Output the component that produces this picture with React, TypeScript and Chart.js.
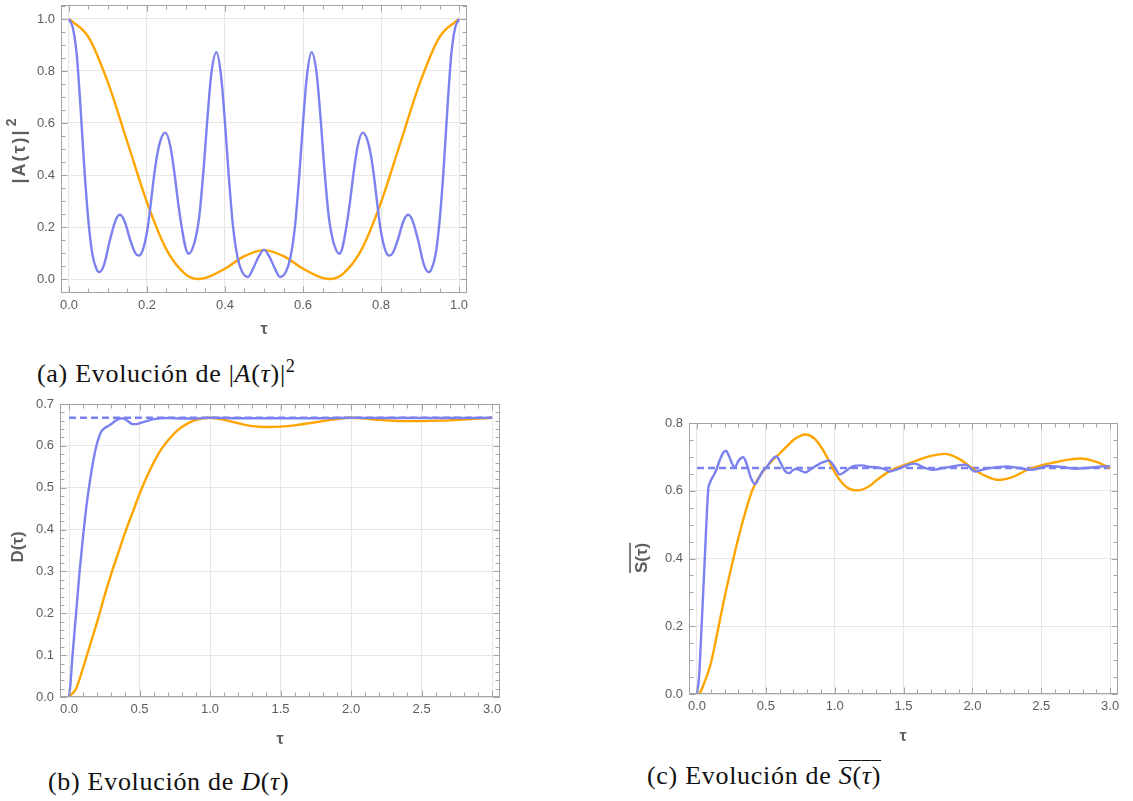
import React, { useEffect, useRef } from 'react';
import { Chart, registerables } from 'chart.js';

Chart.register(...registerables);

// ---------------- Data ----------------
// (a) |A(τ)|²
const A_BLUE_T = [0, 0.01, 0.02, 0.03, 0.04, 0.05, 0.06, 0.07, 0.078, 0.09, 0.105, 0.12, 0.131, 0.143, 0.157, 0.17, 0.179, 0.19, 0.202, 0.212, 0.222, 0.234, 0.247, 0.26, 0.271, 0.281, 0.29, 0.299, 0.307, 0.316, 0.325, 0.334, 0.345, 0.355, 0.365, 0.378, 0.39, 0.4, 0.41, 0.42, 0.432, 0.445, 0.459, 0.472, 0.486, 0.5,
  0.514, 0.528, 0.541, 0.555, 0.568, 0.58, 0.59, 0.6, 0.61, 0.622, 0.635, 0.645, 0.655, 0.666, 0.675, 0.684, 0.693, 0.701, 0.71, 0.719, 0.729, 0.74, 0.753, 0.766, 0.778, 0.788, 0.798, 0.81, 0.821, 0.83, 0.843, 0.857, 0.869, 0.88, 0.895, 0.91, 0.922, 0.93, 0.94, 0.95, 0.96, 0.97, 0.98, 0.99, 1.0];
const A_BLUE_V = [1.0, 0.965, 0.86, 0.65, 0.41, 0.22, 0.095, 0.04, 0.026, 0.055, 0.15, 0.228, 0.247, 0.22, 0.15, 0.1, 0.09, 0.115, 0.2, 0.32, 0.44, 0.53, 0.563, 0.51, 0.4, 0.28, 0.19, 0.12, 0.097, 0.115, 0.16, 0.24, 0.42, 0.62, 0.79, 0.872, 0.78, 0.6, 0.39, 0.21, 0.085, 0.025, 0.008, 0.04, 0.085, 0.113,
  0.085, 0.04, 0.008, 0.025, 0.085, 0.21, 0.39, 0.6, 0.78, 0.872, 0.79, 0.62, 0.42, 0.24, 0.16, 0.115, 0.097, 0.12, 0.19, 0.28, 0.4, 0.51, 0.563, 0.53, 0.44, 0.32, 0.2, 0.115, 0.09, 0.1, 0.15, 0.22, 0.247, 0.228, 0.15, 0.055, 0.026, 0.04, 0.095, 0.22, 0.41, 0.65, 0.86, 0.965, 1.0];
const A_ORANGE_T = [0, 0.05, 0.1, 0.15, 0.2, 0.25, 0.3, 0.333, 0.35, 0.4, 0.45, 0.5, 0.55, 0.6, 0.65, 0.667, 0.7, 0.75, 0.8, 0.85, 0.9, 0.95, 1.0];
const A_ORANGE_V = [1.0, 0.93, 0.755, 0.525, 0.295, 0.113, 0.017, 0.0, 0.004, 0.04, 0.088, 0.111, 0.088, 0.04, 0.004, 0.0, 0.017, 0.113, 0.295, 0.525, 0.755, 0.93, 1.0];

// (b) D(τ)
const D_BLUE_T = [0, 0.01, 0.025, 0.05, 0.075, 0.1, 0.125, 0.15, 0.175, 0.2, 0.225, 0.25, 0.275, 0.3, 0.325, 0.35, 0.375, 0.4, 0.425, 0.45, 0.475, 0.5, 0.55, 0.6, 0.65, 0.7, 0.8, 0.9, 1.0, 1.2, 1.4, 1.6, 1.8, 2.0, 2.2, 2.4, 2.6, 2.8, 3.0];
const D_BLUE_V = [0, 0.03, 0.1, 0.2, 0.3, 0.385, 0.46, 0.52, 0.57, 0.608, 0.632, 0.642, 0.647, 0.652, 0.659, 0.664, 0.666, 0.663, 0.657, 0.652, 0.652, 0.654, 0.659, 0.664, 0.666, 0.6665, 0.6655, 0.6655, 0.667, 0.666, 0.666, 0.666, 0.666, 0.667, 0.6665, 0.6665, 0.6665, 0.6665, 0.667];
const D_ORANGE_T = [0, 0.05, 0.1, 0.15, 0.2, 0.25, 0.3, 0.35, 0.4, 0.45, 0.5, 0.55, 0.6, 0.65, 0.7, 0.75, 0.8, 0.85, 0.9, 0.95, 1.0, 1.1, 1.2, 1.3, 1.4, 1.5, 1.6, 1.7, 1.8, 1.9, 2.0, 2.1, 2.2, 2.3, 2.4, 2.5, 2.6, 2.7, 2.8, 2.9, 3.0];
const D_ORANGE_V = [0, 0.02, 0.07, 0.125, 0.18, 0.24, 0.295, 0.345, 0.395, 0.44, 0.485, 0.525, 0.56, 0.59, 0.612, 0.631, 0.645, 0.655, 0.662, 0.666, 0.667, 0.662, 0.654, 0.647, 0.645, 0.646, 0.649, 0.654, 0.659, 0.664, 0.667, 0.665, 0.662, 0.66, 0.659, 0.659, 0.66, 0.661, 0.663, 0.665, 0.667];
const D_LIMIT = 0.667;

// (c) S̄(τ)
const S_BLUE_T = [0, 0.015, 0.03, 0.045, 0.06, 0.07, 0.082, 0.095, 0.106, 0.125, 0.143, 0.165, 0.19, 0.21, 0.23, 0.255, 0.275, 0.3, 0.336, 0.36, 0.39, 0.42, 0.45, 0.48, 0.505, 0.54, 0.577, 0.61, 0.64, 0.669, 0.7, 0.722, 0.75, 0.787, 0.83, 0.87, 0.92, 0.959, 1.0, 1.036, 1.08, 1.13, 1.2, 1.25, 1.31, 1.36, 1.4, 1.47, 1.53, 1.58, 1.65, 1.71, 1.8, 1.9, 1.95, 2.02, 2.1, 2.19, 2.25, 2.32, 2.43, 2.55, 2.65, 2.75, 2.85, 2.95, 3.0];
const S_BLUE_V = [0, 0.05, 0.17, 0.3, 0.43, 0.52, 0.605, 0.625, 0.635, 0.648, 0.665, 0.69, 0.712, 0.718, 0.705, 0.68, 0.669, 0.688, 0.699, 0.68, 0.64, 0.62, 0.638, 0.66, 0.669, 0.69, 0.701, 0.68, 0.658, 0.652, 0.662, 0.664, 0.66, 0.654, 0.665, 0.675, 0.685, 0.689, 0.67, 0.648, 0.658, 0.672, 0.675, 0.671, 0.669, 0.664, 0.657, 0.666, 0.676, 0.68, 0.668, 0.662, 0.668, 0.675, 0.677, 0.657, 0.665, 0.67, 0.672, 0.668, 0.662, 0.673, 0.67, 0.665, 0.668, 0.672, 0.672];
const S_ORANGE_T = [0, 0.02, 0.05, 0.1, 0.15, 0.2, 0.25, 0.3, 0.35, 0.4, 0.45, 0.5, 0.55, 0.6, 0.65, 0.7, 0.75, 0.787, 0.85, 0.9, 0.95, 1.0, 1.05, 1.1, 1.17, 1.25, 1.3, 1.4, 1.5, 1.6, 1.7, 1.8, 1.9, 2.0, 2.1, 2.19, 2.3, 2.4, 2.5, 2.6, 2.7, 2.79, 2.9, 3.0];
const S_ORANGE_V = [0, 0.003, 0.03, 0.09, 0.185, 0.285, 0.375, 0.46, 0.535, 0.6, 0.64, 0.667, 0.69, 0.71, 0.73, 0.75, 0.762, 0.766, 0.755, 0.73, 0.695, 0.655, 0.625, 0.607, 0.601, 0.613, 0.63, 0.658, 0.675, 0.69, 0.703, 0.709, 0.695, 0.666, 0.643, 0.632, 0.642, 0.662, 0.675, 0.684, 0.692, 0.695, 0.685, 0.667];
const S_LIMIT = 0.667;

// Tick labels
const A_X_TICKS = [0, 0.2, 0.4, 0.6, 0.8, 1.0];
const A_Y_TICKS = [0, 0.2, 0.4, 0.6, 0.8, 1.0];
const BC_X_TICKS = [0, 0.5, 1.0, 1.5, 2.0, 2.5, 3.0];
const B_Y_TICKS = [0, 0.1, 0.2, 0.3, 0.4, 0.5, 0.6, 0.7];
const C_Y_TICKS = [0, 0.2, 0.4, 0.6, 0.8];

// ---------------- Styles ----------------
const BLUE = '#7b82f0';
const ORANGE = '#ffa500';
const FRAME = '#a3a3a3';
const GRID = '#e6e6e6';
const TICK_COLOR = '#5c5c5c';
const TITLE_COLOR = '#5e5e5e';
const SANS = '"Liberation Sans", Arial, sans-serif';
const SERIF = '"Liberation Serif", "Times New Roman", serif';

type Series = { t: number[]; v: number[]; color: string; dash?: number[]; order: number };
type Spec = {
  key: string;
  left: number; top: number; w: number; h: number;
  area: { left: number; top: number; right: number; bottom: number };
  xMin: number; xMax: number; yMin: number; yMax: number;
  xTicks: number[]; yTicks: number[];
  xMinor: number; yMinor: number; xMajor: number; yMajor: number;
  series: Series[];
  xTitle: { x: number; y: number };
  yTitle: { x: number; y: number; text: string; sup?: string; overline?: boolean; spacing: number; size: number };
};

function makeFramePlugin(s: Spec) {
  return {
    id: 'frame_' + s.key,
    afterDraw(chart: any) {
      const { ctx, chartArea: a } = chart;
      const xs = chart.scales.x;
      const ys = chart.scales.y;
      ctx.save();
      ctx.strokeStyle = FRAME;
      ctx.lineWidth = 1;
      const L = Math.round(a.left) + 0.5;
      const R = Math.round(a.right) - 0.5;
      const T = Math.round(a.top) + 0.5;
      const B = Math.round(a.bottom) - 0.5;
      ctx.strokeRect(L, T, R - L, B - T);
      ctx.beginPath();
      const isMajor = (v: number, step: number) => Math.abs(v / step - Math.round(v / step)) < 1e-6;
      for (let k = Math.ceil(s.xMin / s.xMinor - 1e-9); k * s.xMinor <= s.xMax + 1e-9; k++) {
        const v = k * s.xMinor;
        const len = isMajor(v, s.xMajor) ? 6 : 4;
        const p = Math.round(xs.getPixelForValue(v)) + 0.5;
        ctx.moveTo(p, B); ctx.lineTo(p, B - len);
        ctx.moveTo(p, T); ctx.lineTo(p, T + len);
      }
      for (let k = Math.ceil(s.yMin / s.yMinor - 1e-9); k * s.yMinor <= s.yMax + 1e-9; k++) {
        const v = k * s.yMinor;
        const len = isMajor(v, s.yMajor) ? 6 : 4;
        const p = Math.round(ys.getPixelForValue(v)) + 0.5;
        ctx.moveTo(L, p); ctx.lineTo(L + len, p);
        ctx.moveTo(R, p); ctx.lineTo(R - len, p);
      }
      ctx.stroke();

      // x title
      ctx.fillStyle = TITLE_COLOR;
      ctx.font = `bold 16px ${SANS}`;
      ctx.textAlign = 'center';
      ctx.textBaseline = 'middle';
      ctx.fillText('τ', s.xTitle.x, s.xTitle.y);

      // y title (rotated)
      const yt = s.yTitle;
      ctx.translate(yt.x, yt.y);
      ctx.rotate(-Math.PI / 2);
      ctx.font = `bold ${yt.size}px ${SANS}`;
      (ctx as any).letterSpacing = `${yt.spacing}px`;
      const mainW = ctx.measureText(yt.text).width;
      let supW = 0;
      if (yt.sup) {
        ctx.font = `bold ${Math.round(yt.size * 0.8)}px ${SANS}`;
        supW = ctx.measureText(yt.sup).width + 2;
      }
      const total = mainW + supW;
      ctx.textAlign = 'left';
      ctx.font = `bold ${yt.size}px ${SANS}`;
      ctx.fillText(yt.text, -total / 2, 0);
      if (yt.sup) {
        ctx.font = `bold ${Math.round(yt.size * 0.8)}px ${SANS}`;
        ctx.fillText(yt.sup, -total / 2 + mainW + 2, -yt.size * 0.45);
      }
      if (yt.overline) {
        ctx.fillRect(-total / 2, -yt.size * 0.75, total - yt.spacing, 1.6);
      }
      (ctx as any).letterSpacing = '0px';
      ctx.restore();
    },
  };
}

function buildConfig(s: Spec): any {
  const tickFont = { family: SANS, size: 13 };
  return {
    type: 'line',
    data: {
      datasets: s.series.map((se) => ({
        data: se.t.map((t, i) => ({ x: t, y: se.v[i] })),
        borderColor: se.color,
        borderWidth: 2.4,
        borderDash: se.dash || [],
        pointRadius: 0,
        fill: false,
        cubicInterpolationMode: 'monotone',
        order: se.order,
      })),
    },
    options: {
      animation: false,
      responsive: false,
      maintainAspectRatio: false,
      events: [],
      layout: { padding: { left: 0, top: s.area.top, right: s.w - s.area.right, bottom: 0 } },
      plugins: { legend: { display: false }, tooltip: { enabled: false } },
      scales: {
        x: {
          type: 'linear',
          min: s.xMin,
          max: s.xMax,
          afterBuildTicks: (sc: any) => { sc.ticks = s.xTicks.map((v) => ({ value: v })); },
          afterFit: (sc: any) => {
            sc.height = s.h - s.area.bottom;
            sc.paddingLeft = 0; sc.paddingRight = 0; sc.paddingTop = 0; sc.paddingBottom = 0;
          },
          ticks: { font: tickFont, color: TICK_COLOR, padding: 5, maxRotation: 0, minRotation: 0, autoSkip: false, callback: (v: any) => Number(v).toFixed(1) },
          grid: { color: GRID, lineWidth: 1, drawTicks: false },
          border: { display: false },
        },
        y: {
          type: 'linear',
          min: s.yMin,
          max: s.yMax,
          afterBuildTicks: (sc: any) => { sc.ticks = s.yTicks.map((v) => ({ value: v })); },
          afterFit: (sc: any) => {
            sc.width = s.area.left;
            sc.paddingLeft = 0; sc.paddingRight = 0; sc.paddingTop = 0; sc.paddingBottom = 0;
          },
          ticks: { font: tickFont, color: TICK_COLOR, padding: 6, autoSkip: false, callback: (v: any) => Number(v).toFixed(1) },
          grid: { color: GRID, lineWidth: 1, drawTicks: false },
          border: { display: false },
        },
      },
    },
    plugins: [makeFramePlugin(s)],
  };
}

function Panel({ spec }: { spec: Spec }) {
  const ref = useRef<HTMLCanvasElement>(null);
  useEffect(() => {
    const chart = new Chart(ref.current as HTMLCanvasElement, buildConfig(spec));
    return () => chart.destroy();
  }, []);
  return (
    <canvas
      ref={ref}
      width={spec.w}
      height={spec.h}
      style={{ position: 'absolute', left: spec.left, top: spec.top, width: spec.w, height: spec.h }}
    />
  );
}

const SPEC_A: Spec = {
  key: 'a', left: 0, top: 0, w: 480, h: 345,
  area: { left: 61, top: 5, right: 467, bottom: 293 },
  xMin: -0.0205, xMax: 1.0205, yMin: -0.0538, yMax: 1.0538,
  xTicks: A_X_TICKS, yTicks: A_Y_TICKS,
  xMinor: 0.05, yMinor: 0.05, xMajor: 0.2, yMajor: 0.2,
  series: [
    { t: A_ORANGE_T, v: A_ORANGE_V, color: ORANGE, order: 2 },
    { t: A_BLUE_T, v: A_BLUE_V, color: BLUE, order: 1 },
  ],
  xTitle: { x: 264, y: 330 },
  yTitle: { x: 20, y: 150, text: '|A(τ)|', sup: '2', spacing: 2, size: 18 },
};

const SPEC_B: Spec = {
  key: 'b', left: 0, top: 395, w: 515, h: 365,
  area: { left: 60, top: 9, right: 500, bottom: 302 },
  xMin: -0.064, xMax: 3.056, yMin: 0, yMax: 0.7,
  xTicks: BC_X_TICKS, yTicks: B_Y_TICKS,
  xMinor: 0.1, yMinor: 0.02, xMajor: 0.5, yMajor: 0.1,
  series: [
    { t: [0, 3], v: [D_LIMIT, D_LIMIT], color: BLUE, dash: [7, 4], order: 3 },
    { t: D_ORANGE_T, v: D_ORANGE_V, color: ORANGE, order: 2 },
    { t: D_BLUE_T, v: D_BLUE_V, color: BLUE, order: 1 },
  ],
  xTitle: { x: 280, y: 345 },
  yTitle: { x: 18, y: 152, text: 'D(τ)', spacing: 0, size: 17 },
};

const SPEC_C: Spec = {
  key: 'c', left: 600, top: 410, w: 533, h: 345,
  area: { left: 89, top: 13, right: 518, bottom: 284 },
  xMin: -0.058, xMax: 3.057, yMin: 0, yMax: 0.8,
  xTicks: BC_X_TICKS, yTicks: C_Y_TICKS,
  xMinor: 0.1, yMinor: 0.05, xMajor: 0.5, yMajor: 0.2,
  series: [
    { t: [0, 3], v: [S_LIMIT, S_LIMIT], color: BLUE, dash: [7, 4], order: 3 },
    { t: S_ORANGE_T, v: S_ORANGE_V, color: ORANGE, order: 2 },
    { t: S_BLUE_T, v: S_BLUE_V, color: BLUE, order: 1 },
  ],
  xTitle: { x: 303, y: 327 },
  yTitle: { x: 42, y: 148, text: 'S(τ)', overline: true, spacing: 0, size: 17 },
};

const captionStyle: React.CSSProperties = {
  position: 'absolute',
  fontFamily: SERIF,
  fontSize: 26,
  letterSpacing: '0.7px',
  lineHeight: '28px',
  color: '#111',
  whiteSpace: 'nowrap',
};

export default function App() {
  return (
    <div style={{ position: 'absolute', left: 0, top: 0, width: 1133, height: 801, background: '#fff', overflow: 'hidden' }}>
      <Panel spec={SPEC_A} />
      <Panel spec={SPEC_B} />
      <Panel spec={SPEC_C} />
      <div style={{ ...captionStyle, left: 37, top: 360 }}>
        (a) Evolución de |<i>A</i>(<i>τ</i>)|<sup style={{ fontSize: '0.7em', lineHeight: 0 }}>2</sup>
      </div>
      <div style={{ ...captionStyle, left: 48, top: 768 }}>
        (b) Evolución de <i>D</i>(<i>τ</i>)
      </div>
      <div style={{ ...captionStyle, left: 647, top: 762 }}>
        (c) Evolución de <span style={{ textDecoration: 'overline', textDecorationThickness: '1px' }}><i>S</i>(<i>τ</i>)</span>
      </div>
    </div>
  );
}
